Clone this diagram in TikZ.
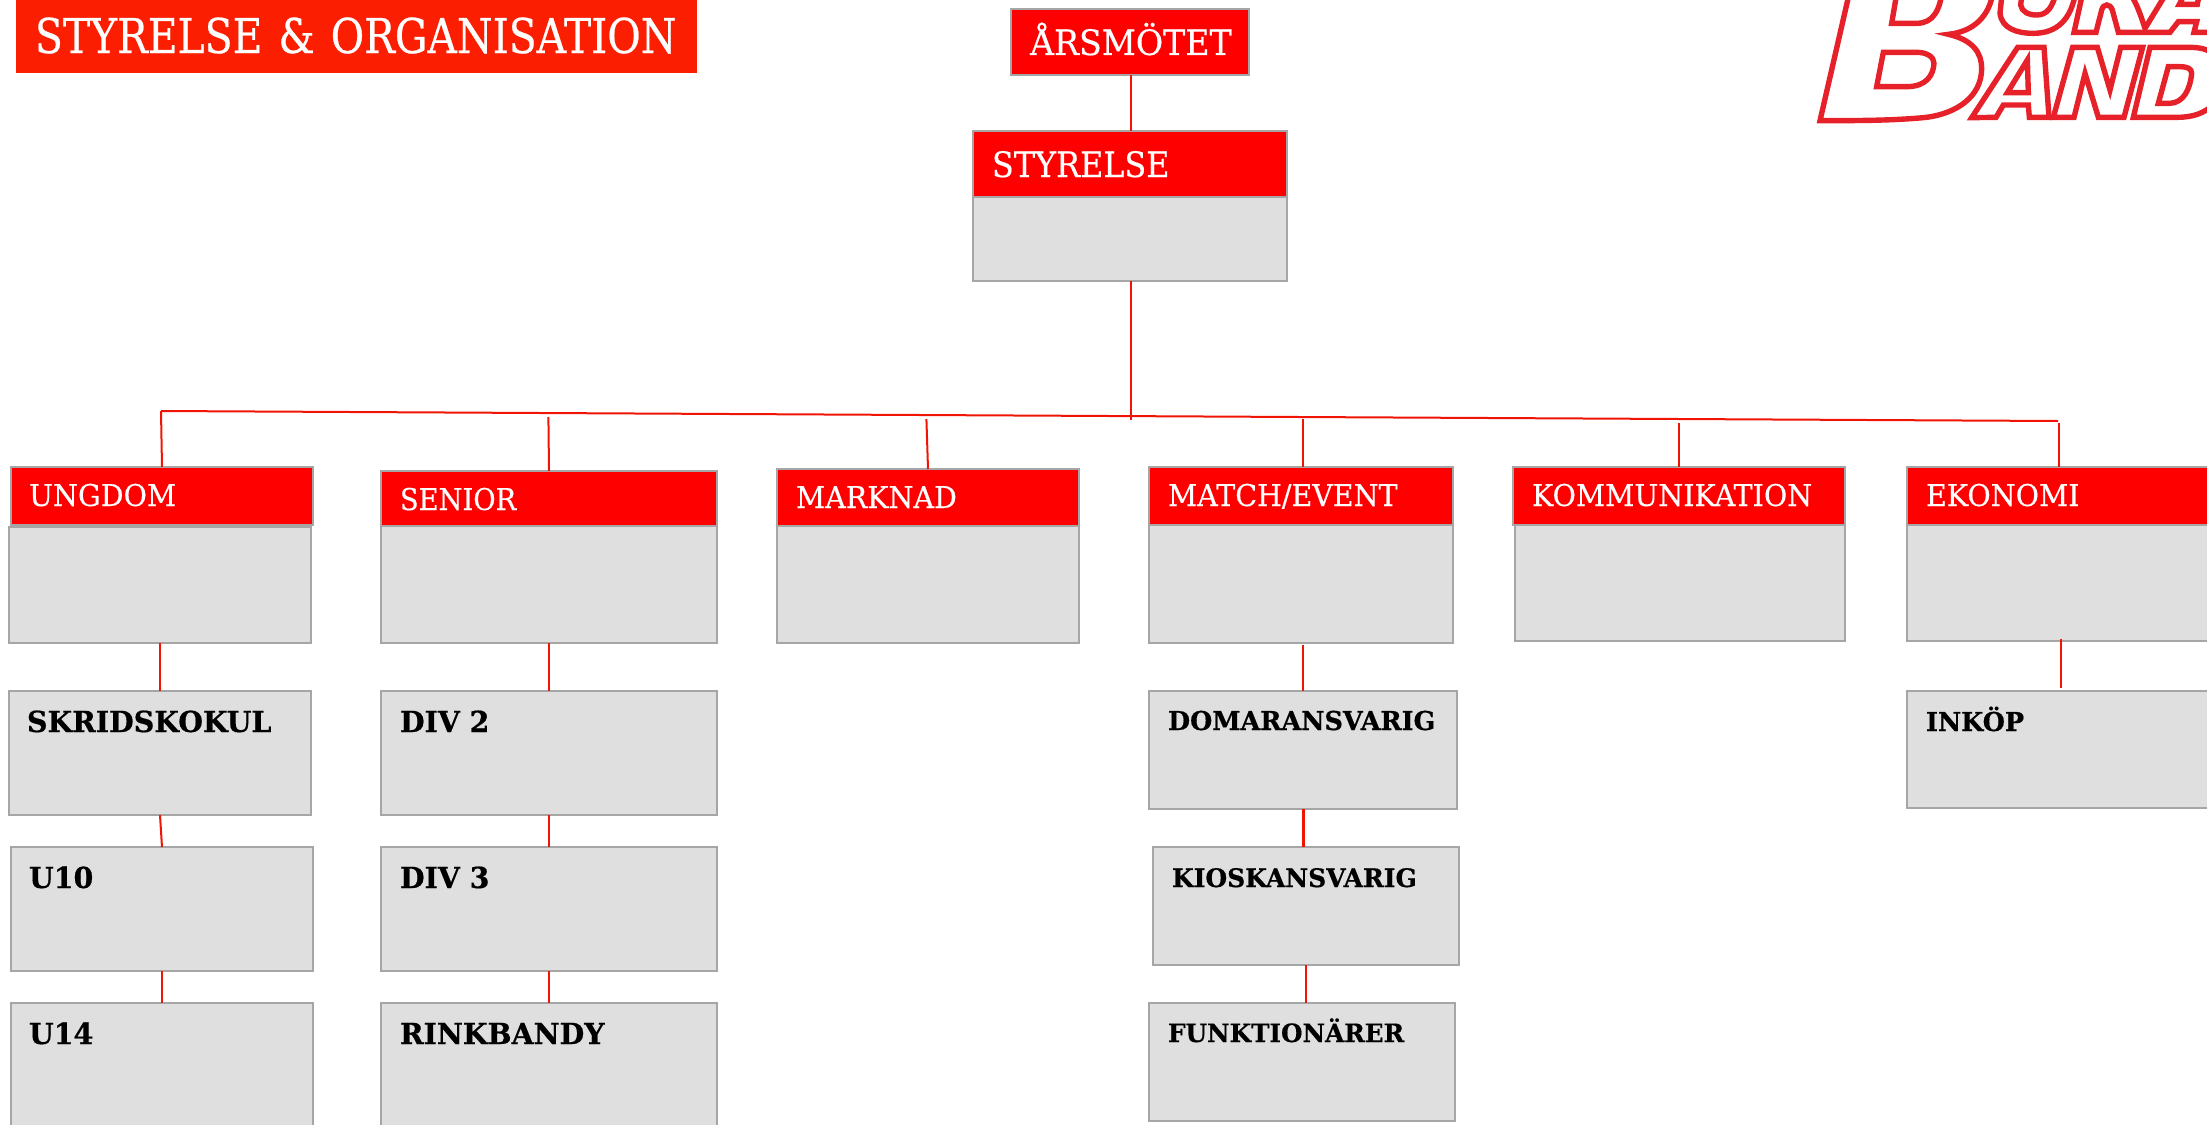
\documentclass[tikz,border=0pt]{standalone}
\usepackage{fontspec}
\usepackage{xcolor}
\newfontfamily\slabfont[FakeStretch=0.95, FakeBold=0.4]{DejaVu Serif}
\newfontfamily\slabnarrow[FakeStretch=0.91, FakeBold=0.4]{DejaVu Serif}
\newfontfamily\slabtitle[FakeStretch=0.85, FakeBold=0.5]{DejaVu Serif}
\newfontfamily\slabheavy[FakeStretch=0.98, FakeBold=0.6]{DejaVu Serif}
\definecolor{boardRed}{RGB}{255, 0, 0}
\definecolor{titleRed}{RGB}{252, 30, 0}
\definecolor{lineRed}{RGB}{240, 20, 5}
\definecolor{logoRed}{RGB}{230, 33, 41}
\definecolor{boxGrey}{RGB}{166, 166, 166}
\definecolor{bodyGrey}{RGB}{223, 223, 223}
\tikzset{
  orgbox/.style={rectangle, draw=boxGrey, line width=1.6pt, anchor=north west, outer sep=0pt, inner xsep=19pt, inner ysep=0pt, align=left},
  headbox/.style 2 args={orgbox, fill=boardRed, text=white, font=\slabfont\fontsize{30}{30}\selectfont, text width=#1, text height=39pt, text depth=#2},
  bodybox/.style 2 args={orgbox, fill=bodyGrey, text width=#1, text height=#2, text depth=0pt},
  subbox/.style 2 args={orgbox, fill=bodyGrey, font=\slabheavy\bfseries\fontsize{29}{29}\selectfont, text width=#1, text height=41pt, text depth=#2},
  tiebar/.style={lineRed, line width=2pt},
  logoline/.style={logoRed, line width=5.4pt, line join=miter}
}
\begin{document}
\begin{tikzpicture}[x=1pt, y=-1pt]
  \useasboundingbox (0,0) rectangle (2207,1124);
  % title and top of the tree
  \node[anchor=north west, fill=titleRed, text=white, outer sep=0pt, inner xsep=19pt, inner ysep=0pt, align=left, font=\slabtitle\fontsize{48}{48}\selectfont, text width=643pt, text height=58pt, text depth=20pt] (title) at (16,-5) {STYRELSE \& ORGANISATION};
  \node[headbox={200pt}{20pt}, text height=46pt, font=\slabfont\fontsize{35}{35}\selectfont] (annual) at (1011,9) {ÅRSMÖTET};
  \node[bodybox={276pt}{84pt}] (boardbody) at (973,197) {};
  \node[headbox={276pt}{20pt}, text height=46pt, font=\slabnarrow\fontsize{35}{35}\selectfont] (board) at (973,131) {STYRELSE};
  % committees
  \node[bodybox={264pt}{116pt}] (youthbody) at (9,527) {};
  \node[headbox={266pt}{19pt}, inner xsep=18pt] (youth) at (11,467) {UNGDOM};
  \node[bodybox={298pt}{117pt}] (seniorbody) at (381,526) {};
  \node[headbox={298pt}{16pt}, font=\slabnarrow\fontsize{30}{30}\selectfont] (senior) at (381,471) {SENIOR};
  \node[bodybox={264pt}{117pt}] (marketbody) at (777,526) {};
  \node[headbox={264pt}{18pt}, text height=39pt] (market) at (777,469) {MARKNAD};
  \node[bodybox={266pt}{118pt}] (matchbody) at (1149,525) {};
  \node[headbox={266pt}{19pt}] (match) at (1149,467) {MATCH/EVENT};
  \node[bodybox={292pt}{116pt}] (commbody) at (1515,525) {};
  \node[headbox={294pt}{19pt}] (comm) at (1513,467) {KOMMUNIKATION};
  \node[bodybox={266pt}{116pt}] (econbody) at (1907,525) {};
  \node[headbox={266pt}{19pt}] (econ) at (1907,467) {EKONOMI};
  % groups under the committees
  \node[subbox={266pt}{83pt}, inner xsep=18pt] (skating) at (9,691) {SKRIDSKOKUL};
  \node[subbox={266pt}{83pt}, inner xsep=18pt] (uten) at (11,847) {U10};
  \node[subbox={266pt}{83pt}, inner xsep=18pt] (ufourteen) at (11,1003) {U14};
  \node[subbox={298pt}{83pt}] (divtwo) at (381,691) {DIV 2};
  \node[subbox={298pt}{83pt}] (divthree) at (381,847) {DIV 3};
  \node[subbox={298pt}{83pt}] (rink) at (381,1003) {RINKBANDY};
  \node[subbox={270pt}{79pt}, text height=39pt, font=\slabheavy\bfseries\fontsize{26}{26}\selectfont] (referee) at (1149,691) {DOMARANSVARIG};
  \node[subbox={268pt}{78pt}, text height=40pt, font=\slabheavy\bfseries\fontsize{25.5}{26}\selectfont] (kiosk) at (1153,847) {KIOSKANSVARIG};
  \node[subbox={268pt}{79pt}, text height=39pt, font=\slabheavy\bfseries\fontsize{25.2}{26}\selectfont] (officials) at (1149,1003) {FUNKTIONÄRER};
  \node[subbox={266pt}{77pt}, text height=40pt, font=\slabheavy\bfseries\fontsize{26}{26}\selectfont] (purchase) at (1907,691) {INKÖP};
  % bus bar
  \coordinate (busleft) at (161,411);
  \coordinate (busright) at (2058,421);
  \coordinate (stemend) at (1131,420);
  \coordinate (seniortop) at (548.4,417);
  \coordinate (markettop) at (926.4,419);
  \coordinate (matchtop) at (1302.5,419);
  \coordinate (commtop) at (1679,423);
  \coordinate (econtop) at (2059,423);
  \coordinate (matchfoot) at (1303,645);
  \coordinate (econfoot) at (2061,639);
  \coordinate (purchasetop) at (2061,688);
  \draw[tiebar] (stemend |- annual.south) -- (stemend |- board.north);
  \draw[tiebar] (stemend |- boardbody.south) -- (stemend);
  \draw[tiebar] (busleft) -- (busright);
  \draw[tiebar] (busleft) -- (youth.north);
  \draw[tiebar] (seniortop) -- (senior.north);
  \draw[tiebar] (markettop) -- (market.north);
  \draw[tiebar] (matchtop) -- (matchtop |- match.north);
  \draw[tiebar] (commtop) -- (comm.north);
  \draw[tiebar] (econtop) -- (econ.north);
  \draw[tiebar] (youthbody.south) -- (skating.north);
  \draw[tiebar] (skating.south) -- (uten.north);
  \draw[tiebar] (uten.south) -- (ufourteen.north);
  \draw[tiebar] (seniorbody.south) -- (divtwo.north);
  \draw[tiebar] (divtwo.south) -- (divthree.north);
  \draw[tiebar] (divthree.south) -- (rink.north);
  \draw[tiebar] (matchfoot) -- (matchfoot |- referee.north);
  \draw[tiebar, line width=3pt] (referee.south) -- (referee.south |- kiosk.north);
  \draw[tiebar] (kiosk.south) -- (kiosk.south |- officials.north);
  \draw[tiebar] (econfoot) -- (purchasetop);
  % logo, runs off the page
  \begin{scope}[shift={(1780,0)}, x=0.3333pt, y=-0.3333pt]
    \draw[logoline] (120,362) -- (210,-30) -- (640,-30) .. controls (630,50) and (580,95) .. (505,103) .. controls (580,120) and (605,160) .. (605,205) .. controls (605,290) and (530,340) .. (440,352) .. controls (340,362) and (230,362) .. cycle;
    \draw[logoline] (352,-30) -- (335,70) -- (410,70) .. controls (460,70) and (480,30) .. (487,-30);
    \draw[logoline] (310,157) -- (290,260) -- (380,260) .. controls (440,260) and (460,225) .. (462,190) .. controls (462,170) and (440,157) .. (410,157) -- cycle;
  \end{scope}
  \begin{scope}[shift={(1990,0)}, x=0.3333pt, y=-0.3333pt]
    \draw[logoline] (37,-30) -- (30,40) .. controls (35,85) and (80,100) .. (130,100) .. controls (200,100) and (245,60) .. (258,-30);
    \draw[logoline] (97,-30) -- (92,15) .. controls (95,35) and (115,45) .. (140,45) .. controls (170,45) and (188,25) .. (200,-30);
    \draw[logoline] (280,-30) -- (252,97) -- (318,97) -- (335,30) .. controls (340,10) and (360,10) .. (367,30) -- (385,97) -- (540,97) -- (565,65) -- (620,65) -- (612,97) -- (660,97);
    \draw[logoline] (415,-30) .. controls (440,10) and (450,40) .. (465,85) -- (535,-30);
    \draw[logoline] (590,-30) -- (568,13) -- (622,13) -- (630,-30);
  \end{scope}
  \begin{scope}[shift={(1970,40)}, x=0.3333pt, y=-0.3333pt]
    \draw[logoline] (5,233) -- (143,22) -- (222,22) -- (237,232) -- (178,232) -- (175,195) -- (100,195) -- (78,232) -- cycle;
    \draw[logoline] (112,158) -- (175,158) -- (172,60) -- cycle;
    \draw[logoline] (250,232) -- (308,22) -- (382,22) -- (420,150) -- (452,22) -- (518,22) -- (462,232) -- (385,232) -- (345,100) -- (312,232) -- cycle;
    \draw[logoline] (730,40) .. controls (700,22) and (680,22) .. (640,22) -- (540,22) -- (490,232) -- (620,232) .. controls (670,232) and (700,220) .. (730,195);
    \draw[logoline] (595,80) -- (565,190) -- (600,190) .. controls (640,188) and (660,150) .. (665,100) .. controls (665,85) and (650,80) .. (630,80) -- cycle;
  \end{scope}
\end{tikzpicture}
\end{document}
